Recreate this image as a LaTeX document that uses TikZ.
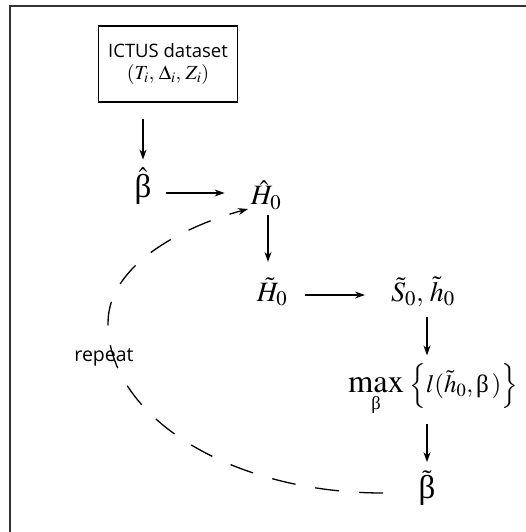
\documentclass[tikz,border=0pt]{standalone}
\usepackage{amsmath}
\usepackage{graphicx}
\usepackage{mathptmx}
\usepackage[no-math]{fontspec}
\setsansfont{Open Sans}
\newfontfamily\grk{Liberation Serif}
\usetikzlibrary{arrows.meta}
\newcommand{\ubeta}{\text{\grk β}}
\newcommand{\bigbeta}{\text{\grk\fontsize{33}{36}\selectfont β}}
\newcommand{\bigmax}{\mathop{\scalebox{1.3}{$\mathrm{max}$}}}
\tikzset{
  lbl/.style={inner sep=0pt, font=\fontsize{28}{32}\selectfont},
  arr/.style={line width=1.3pt, -{Stealth[length=10pt,width=7pt]}},
  loop/.style={line width=1.3pt, dash pattern=on 24pt off 20pt, -{Stealth[length=10pt,width=7pt]}},
  frame/.style={line width=1.6pt, draw=black!80}
}
\begin{document}
\begin{tikzpicture}[x=1pt,y=-1pt]
  \useasboundingbox (0,0) rectangle (526,532);
  % outer frame: left and top edges
  \draw[frame] (10,532) -- (10,6) -- (526,6);

  % input data box
  \node[draw, line width=1.1pt, minimum width=139pt, minimum height=76pt, align=center,
        inner sep=2pt] (data) at (168,64)
    {\sffamily\fontsize{18.5}{22}\selectfont ICTUS dataset\\[5pt]
     \fontsize{20}{24}\selectfont $(T_i,\,\Delta_i,\,Z_i)$};

  % estimation steps
  \node[lbl] (bhat)   at (143,186) {$\hat{\bigbeta}$};
  \node[lbl] (Hhat)   at (266,195) {$\hat{H}_0$};
  \node[lbl] (Htil)   at (272,292) {$\tilde{H}_0$};
  \node[lbl] (Sh)     at (423,292) {$\tilde{S}_0,\,\tilde{h}_0$};
  \node[lbl, font=\fontsize{25}{30}\selectfont] (maxl) at (433,390)
    {$\bigmax\limits_{\ubeta}\;\Bigl\{l(\tilde{h}_0,\ubeta\,)\Bigr\}$};
  \node[lbl] (btil)   at (427,488) {$\tilde{\bigbeta}$};
  \node[inner sep=0pt, font=\sffamily\fontsize{19.5}{22}\selectfont] (rep) at (104,357) {repeat};

  % flow arrows
  \draw[arr, shorten <=16pt, shorten >=8pt] (data.south -| bhat) -- (bhat.north);
  \draw[arr, shorten <=14pt, shorten >=26pt] (bhat.east |- 0,193) -- (Hhat.west |- 0,193);
  \draw[arr, shorten <=5pt, shorten >=16pt] (Hhat.south -| 268,0) -- (Htil.north -| 268,0);
  \draw[arr, shorten <=18pt, shorten >=26pt] (Htil.east |- 0,295) -- (Sh.west |- 0,295);
  \draw[arr, shorten <=10pt, shorten >=8pt] (Sh.south -| 427,0) -- (maxl.north -| 427,0);
  \draw[arr, shorten <=7pt, shorten >=8pt] (maxl.south -| 427,0) -- (btil.north -| 427,0);

  % iteration loop back to the baseline hazard
  \coordinate (loopS) at (383,493);
  \coordinate (loopE) at (248,209);
  \draw[loop] (loopS) .. controls (231,493) and (108,417) .. (108,323)
                      .. controls (108,263) and (188,225) .. (loopE);
\end{tikzpicture}
\end{document}
